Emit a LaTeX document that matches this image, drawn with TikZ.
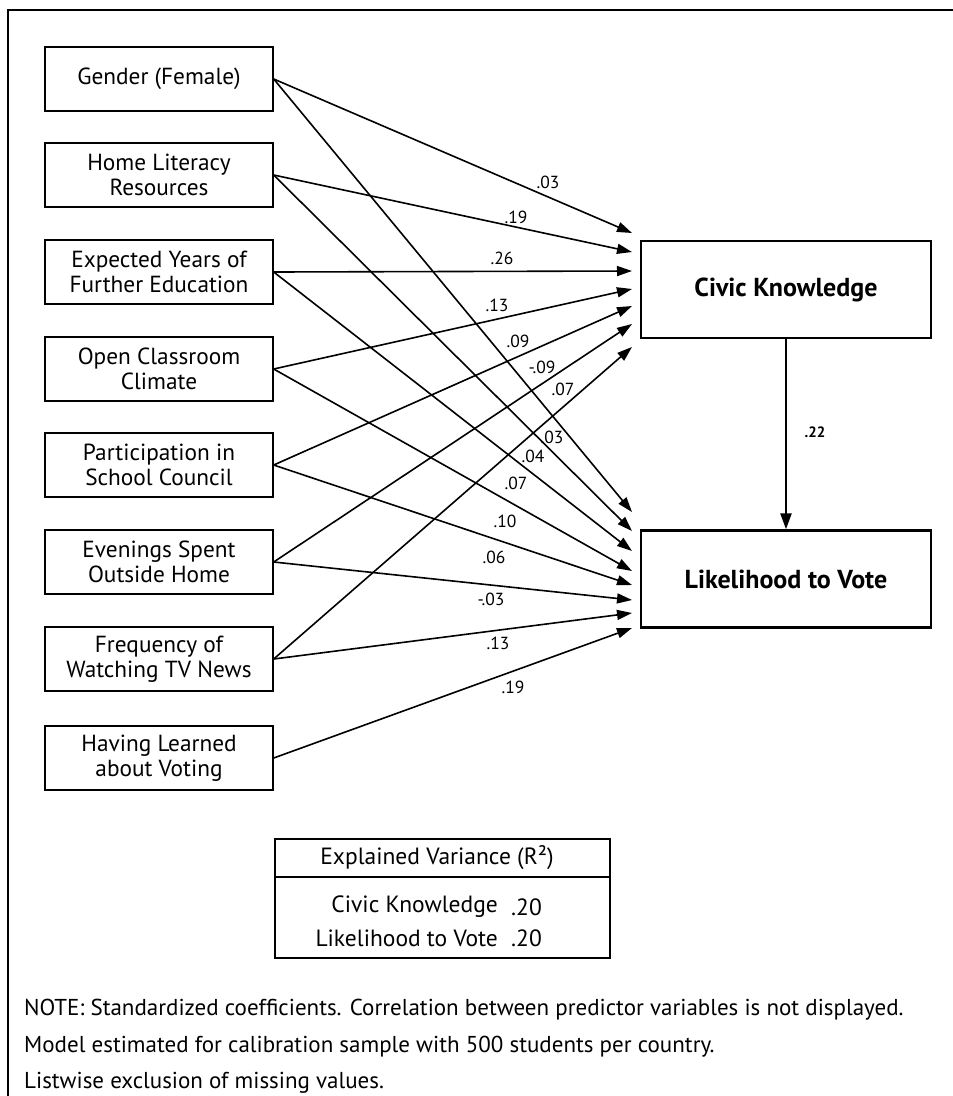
\documentclass[tikz,border=0pt]{standalone}
\usepackage{fontspec}
\setmainfont{PT Sans}
\usetikzlibrary{arrows.meta}
\begin{document}
\begin{tikzpicture}[x=1pt,y=-1pt,
  pred/.style={draw, line width=1.4pt, minimum width=228pt, minimum height=64pt,
    align=center, inner sep=0pt, font=\fontsize{23.3}{25}\selectfont},
  outc/.style={draw, line width=2.4pt, minimum width=290pt, minimum height=97pt,
    inner sep=0pt, font=\fontsize{26}{30}\selectfont\bfseries},
  conn/.style={line width=1.6pt, -{Triangle[length=15pt,width=10pt]}},
  coef/.style={inner sep=0pt, font=\fontsize{17.5}{19}\selectfont},
  txt/.style={inner sep=0pt, font=\fontsize{23.5}{26}\selectfont},
  notetxt/.style={inner sep=0pt, anchor=west, font=\fontsize{23}{26}\selectfont}]
\useasboundingbox (0,0) rectangle (953,1096);
% frame
\coordinate (fbl) at (8,1096);
\coordinate (ftl) at (8,10);
\coordinate (ftr) at (953,10);
\draw[line width=1.3pt] (fbl) -- (ftl) -- (ftr);

% predictors
\node[pred] (g)  at (159,79)  {Gender (Female)};
\node[pred] (hl) at (159,175) {Home Literacy\\Resources};
\node[pred] (ey) at (159,272) {Expected Years of\\Further Education};
\node[pred] (oc) at (159,369) {Open Classroom\\Climate};
\node[pred] (pc) at (159,465) {Participation in\\School Council};
\node[pred] (es) at (159,562) {Evenings Spent\\Outside Home};
\node[pred] (tv) at (159,659) {Frequency of\\Watching TV News};
\node[pred] (lv) at (159,758) {Having Learned\\about Voting};

% outcomes
\node[outc] (ck) at (786,289.5) {Civic Knowledge};
\node[outc] (vo) at (786,579) {Likelihood to Vote};

% arrow tips
\coordinate (c1) at (632,233);
\coordinate (c2) at (632,252);
\coordinate (c3) at (632,271);
\coordinate (c4) at (632,289);
\coordinate (c5) at (632,306);
\coordinate (c6) at (632,324);
\coordinate (c7) at (632,347);
\coordinate (v1) at (632,512);
\coordinate (v2) at (632,531);
\coordinate (v3) at (632,551);
\coordinate (v4) at (632,571);
\coordinate (v5) at (632,585);
\coordinate (v6) at (632,600);
\coordinate (v7) at (632,613);
\coordinate (v8) at (632,628);

% paths to civic knowledge
\draw[conn] (g.east)  -- (c1);
\draw[conn] (hl.east) -- (c2);
\draw[conn] (ey.east) -- (c3);
\draw[conn] (oc.east) -- (c4);
\draw[conn] (pc.east) -- (c5);
\draw[conn] (es.east) -- (c6);
\draw[conn] (tv.east) -- (c7);
% paths to likelihood to vote
\draw[conn] (g.east)  -- (v1);
\draw[conn] (hl.east) -- (v2);
\draw[conn] (ey.east) -- (v3);
\draw[conn] (oc.east) -- (v4);
\draw[conn] (pc.east) -- (v5);
\draw[conn] (es.east) -- (v6);
\draw[conn] (tv.east) -- (v7);
\draw[conn] (lv.east) -- (v8);
% civic knowledge -> vote
\draw[line width=2.4pt, -{Triangle[length=16pt,width=11pt]}] (ck.south) -- (vo.north);

% coefficients (civic knowledge)
\node[coef] (k1) at (548,182) {.03};
\node[coef] (k2) at (516,217) {.19};
\node[coef] (k3) at (502,258) {.26};
\node[coef] (k4) at (497,305) {.13};
\node[coef] (k5) at (518,341) {.09};
\node[coef] (k6) at (542,367) {-.09};
\node[coef] (k7) at (563,389) {.07};
% coefficients (vote)
\node[coef] (w1) at (552,437) {.03};
\node[coef] (w2) at (533,456) {.04};
\node[coef] (w3) at (516,483) {.07};
\node[coef] (w4) at (505,521) {.10};
\node[coef] (w5) at (494,557) {.06};
\node[coef] (w6) at (491,599) {-.03};
\node[coef] (w7) at (498,643) {.13};
\node[coef] (w8) at (513,687) {.19};
\node[coef, font=\fontsize{15}{17}\selectfont\bfseries] (w9) at (815,432) {.22};

% legend
\node[draw, line width=1.3pt, minimum width=335pt, minimum height=119pt, inner sep=0pt] (leg) at (442.5,898.5) {};
\coordinate (lda) at (275,877);
\coordinate (ldb) at (610,877);
\draw[line width=1.3pt] (lda) -- (ldb);
\node[txt] (lt) at (437,858) {Explained Variance (R²)};
\node[txt, anchor=east] (r1) at (498,907) {Civic Knowledge};
\node[txt, anchor=west] (r1v) at (511,907) {.20};
\node[txt, anchor=east] (r2) at (498,938) {Likelihood to Vote};
\node[txt, anchor=west] (r2v) at (511,938) {.20};

% note
\node[notetxt] (n1) at (24,1010) {NOTE: Standardized coefficients. Correlation between predictor variables is not displayed.};
\node[notetxt] (n2) at (24,1047) {Model estimated for calibration sample with 500 students per country.};
\node[notetxt] (n3) at (24,1083) {Listwise exclusion of missing values.};
\end{tikzpicture}
\end{document}
